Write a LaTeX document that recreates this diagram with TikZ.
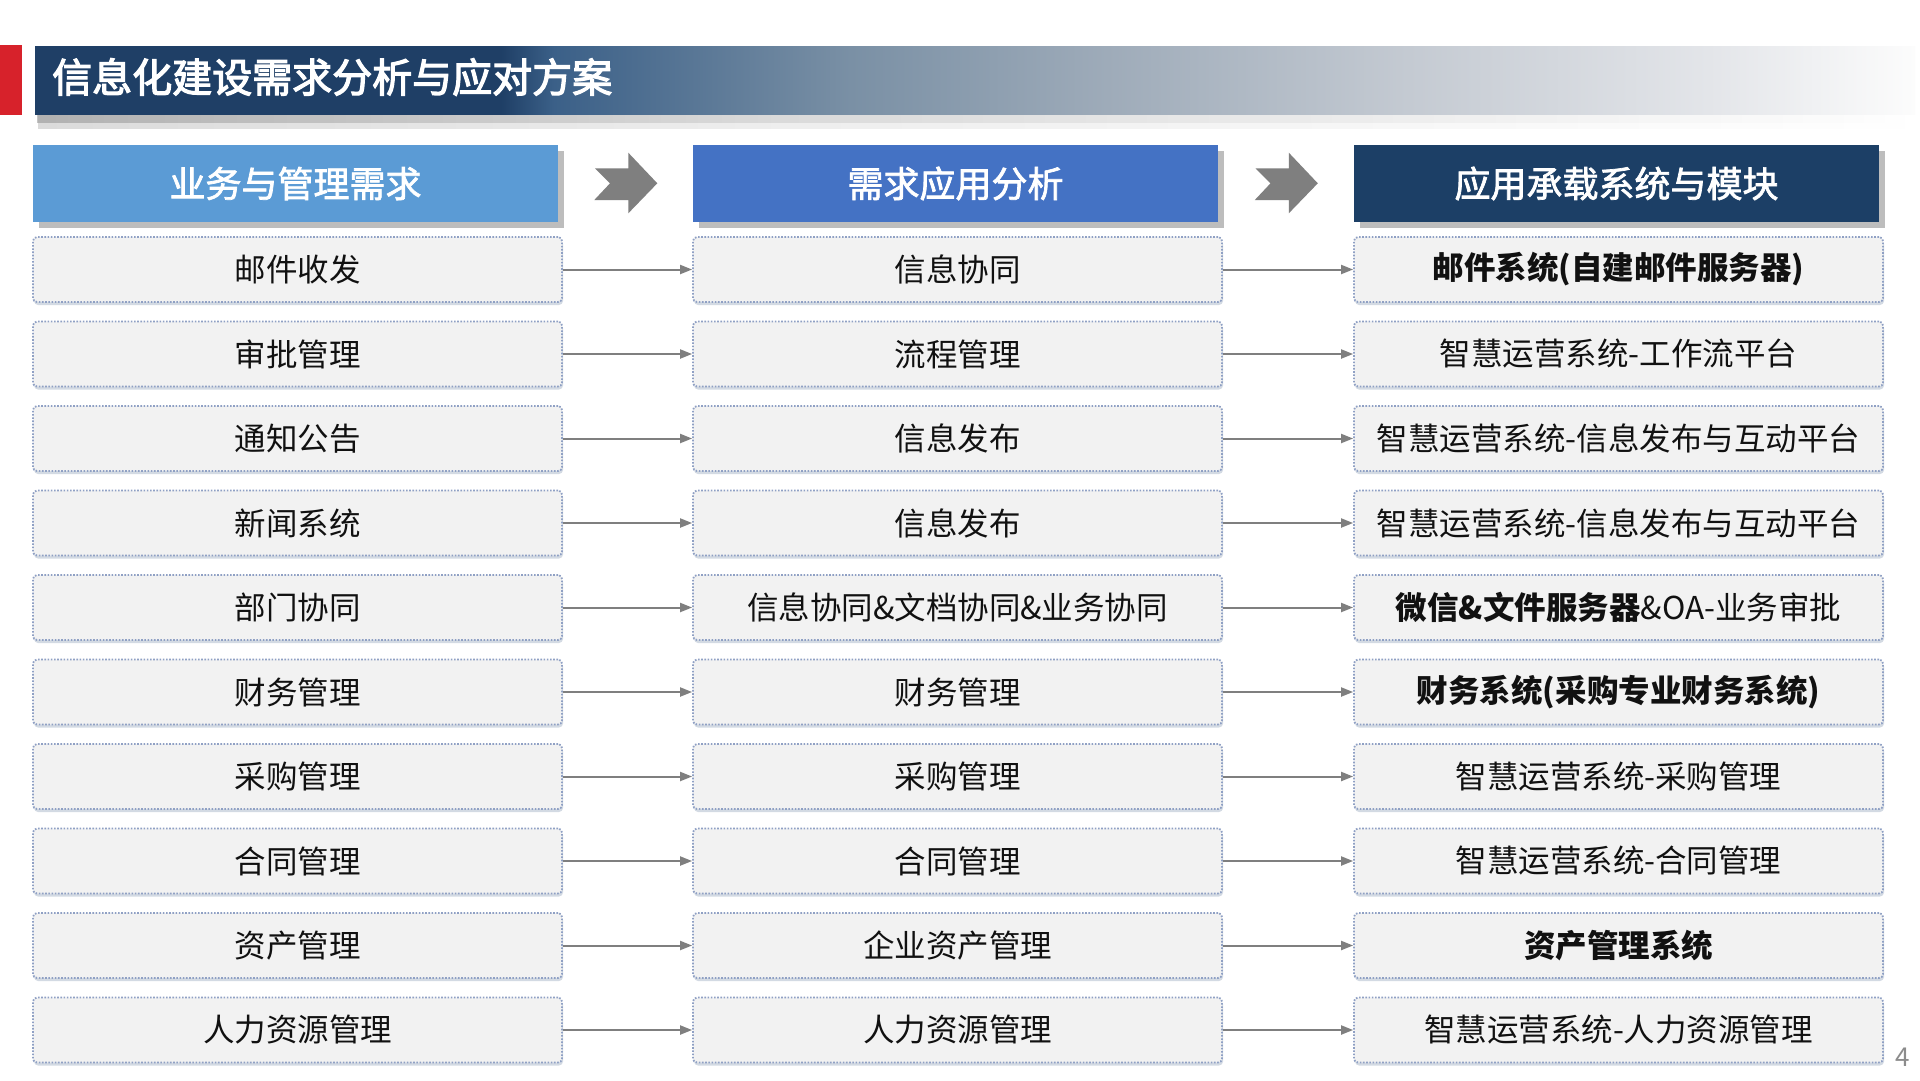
\documentclass[tikz,border=0pt]{standalone}
\usepackage{fontspec}
\setmainfont{Noto Sans CJK SC}
\newfontfamily\hdrfont[FakeBold=2]{Noto Sans CJK SC}
\newfontfamily\ttlfont[FakeBold=3]{Noto Sans CJK SC}
\usetikzlibrary{arrows.meta,shadows}
\definecolor{redbar}{HTML}{D7222B}
\definecolor{tA}{HTML}{1F3F66}
\definecolor{tB}{HTML}{3B6088}
\definecolor{tC}{HTML}{7A90A5}
\definecolor{tD}{HTML}{9EABB9}
\definecolor{tE}{HTML}{C4CAD2}
\definecolor{tF}{HTML}{E3E5E9}
\definecolor{tG}{HTML}{FCFCFC}
\definecolor{sA}{HTML}{8A8A8A}
\definecolor{sB}{HTML}{C8C8C8}
\definecolor{sC}{HTML}{FFFFFF}
\definecolor{hdrA}{HTML}{5B9BD5}
\definecolor{hdrB}{HTML}{4472C4}
\definecolor{hdrC}{HTML}{1C3F66}
\definecolor{shadowgray}{HTML}{BDBDBD}
\definecolor{boxfill}{HTML}{F2F2F2}
\definecolor{boxline}{HTML}{8FA0C4}
\definecolor{cellshadow}{HTML}{C9D1DD}
\definecolor{conngray}{HTML}{7F7F7F}
\definecolor{textblack}{HTML}{111111}
\definecolor{pagegray}{HTML}{8C8C8C}
\pgfdeclarehorizontalshading{titlefade}{100bp}{color(0bp)=(tA); color(25bp)=(tA); color(37.4bp)=(tA); color(38.8bp)=(tB); color(46.7bp)=(tC); color(53.5bp)=(tD); color(61.5bp)=(tE); color(69.5bp)=(tF); color(75bp)=(tG); color(100bp)=(tG)}
\pgfdeclarehorizontalshading{shadefade}{100bp}{color(0bp)=(sA); color(25bp)=(sA); color(45bp)=(sB); color(75bp)=(sC); color(100bp)=(sC)}
\tikzset{
  hdr/.style={minimum width=525pt, minimum height=77pt, inner sep=0pt, text=white,
    font=\hdrfont\fontsize{36}{40}\selectfont,
    drop shadow={shadow xshift=6pt, shadow yshift=-6pt, fill=shadowgray, opacity=1}},
  cell/.style={minimum width=529pt, minimum height=65pt, inner sep=0pt, rounded corners=4pt,
    fill=boxfill, draw=boxline, line width=1.8pt, dash pattern=on 1.6pt off 1.6pt,
    text=textblack, font=\fontsize{31.5}{36}\selectfont,
    drop shadow={shadow xshift=1pt, shadow yshift=-3pt, fill=cellshadow, opacity=0.8}},
  conn/.style={draw=conngray, line width=2pt, -{Triangle[length=12pt,width=9pt]}},
  chev/.style={fill=conngray}
}
\begin{document}
\begin{tikzpicture}[x=1pt,y=-1pt]
\useasboundingbox (0,0) rectangle (1920,1080);
\fill[white] (0,0) rectangle (1920,1080);
% title band
\shade[shading=shadefade, opacity=0.3] (38,108) rectangle (1915,128);
\shade[shading=shadefade, opacity=0.5] (37,108) rectangle (1915,122);
\fill[redbar] (0,45) rectangle (22,115);
\shade[shading=titlefade] (35,46) rectangle (1915,114);
\node[anchor=west, inner sep=0pt, text=white, font=\ttlfont\fontsize{40}{44}\selectfont] (title) at (52,77) {信息化建设需求分析与应对方案};
% headers
\node[hdr, fill=hdrA] (h1) at (295.5,183.5) {业务与管理需求};
\node[hdr, fill=hdrB] (h2) at (955.5,183.5) {需求应用分析};
\node[hdr, fill=hdrC] (h3) at (1616.5,183.5) {应用承载系统与模块};
% chevrons
\foreach \dx in {0,660.5}{
  \begin{scope}[shift={(\dx,0)}]
  \fill[chev] (595,168.3) -- (628.3,168.3) -- (628.3,152.7) -- (657.3,183.3) -- (628.3,213.3) -- (628.3,200) -- (594.3,200) -- (610,183.3) -- cycle;
  \end{scope}
}
% rows
\foreach \i/\ta/\tb/\tc in {
  1/邮件收发/信息协同/{\bfseries 邮件系统(自建邮件服务器)},
  2/审批管理/流程管理/{智慧运营系统-工作流平台},
  3/通知公告/信息发布/{智慧运营系统-信息发布与互动平台},
  4/新闻系统/信息发布/{智慧运营系统-信息发布与互动平台},
  5/部门协同/{信息协同\&文档协同\&业务协同}/{{\bfseries 微信\&文件服务器}\&OA-业务审批},
  6/财务管理/财务管理/{\bfseries 财务系统(采购专业财务系统)},
  7/采购管理/采购管理/{智慧运营系统-采购管理},
  8/合同管理/合同管理/{智慧运营系统-合同管理},
  9/资产管理/企业资产管理/{\bfseries 资产管理系统},
  10/人力资源管理/人力资源管理/{智慧运营系统-人力资源管理}}{
  \pgfmathsetmacro\yy{269.5+84.5*(\i-1)}
  \node[cell] (a\i) at (297.5,\yy) {\ta};
  \node[cell] (b\i) at (957.5,\yy) {\tb};
  \node[cell] (c\i) at (1618.5,\yy) {\tc};
  \draw[conn] (a\i) -- (b\i);
  \draw[conn] (b\i) -- (c\i);
}
\node[text=pagegray, inner sep=0pt, font=\fontsize{26}{30}\selectfont] (pg) at (1903,1057) {4};
\end{tikzpicture}
\end{document}
